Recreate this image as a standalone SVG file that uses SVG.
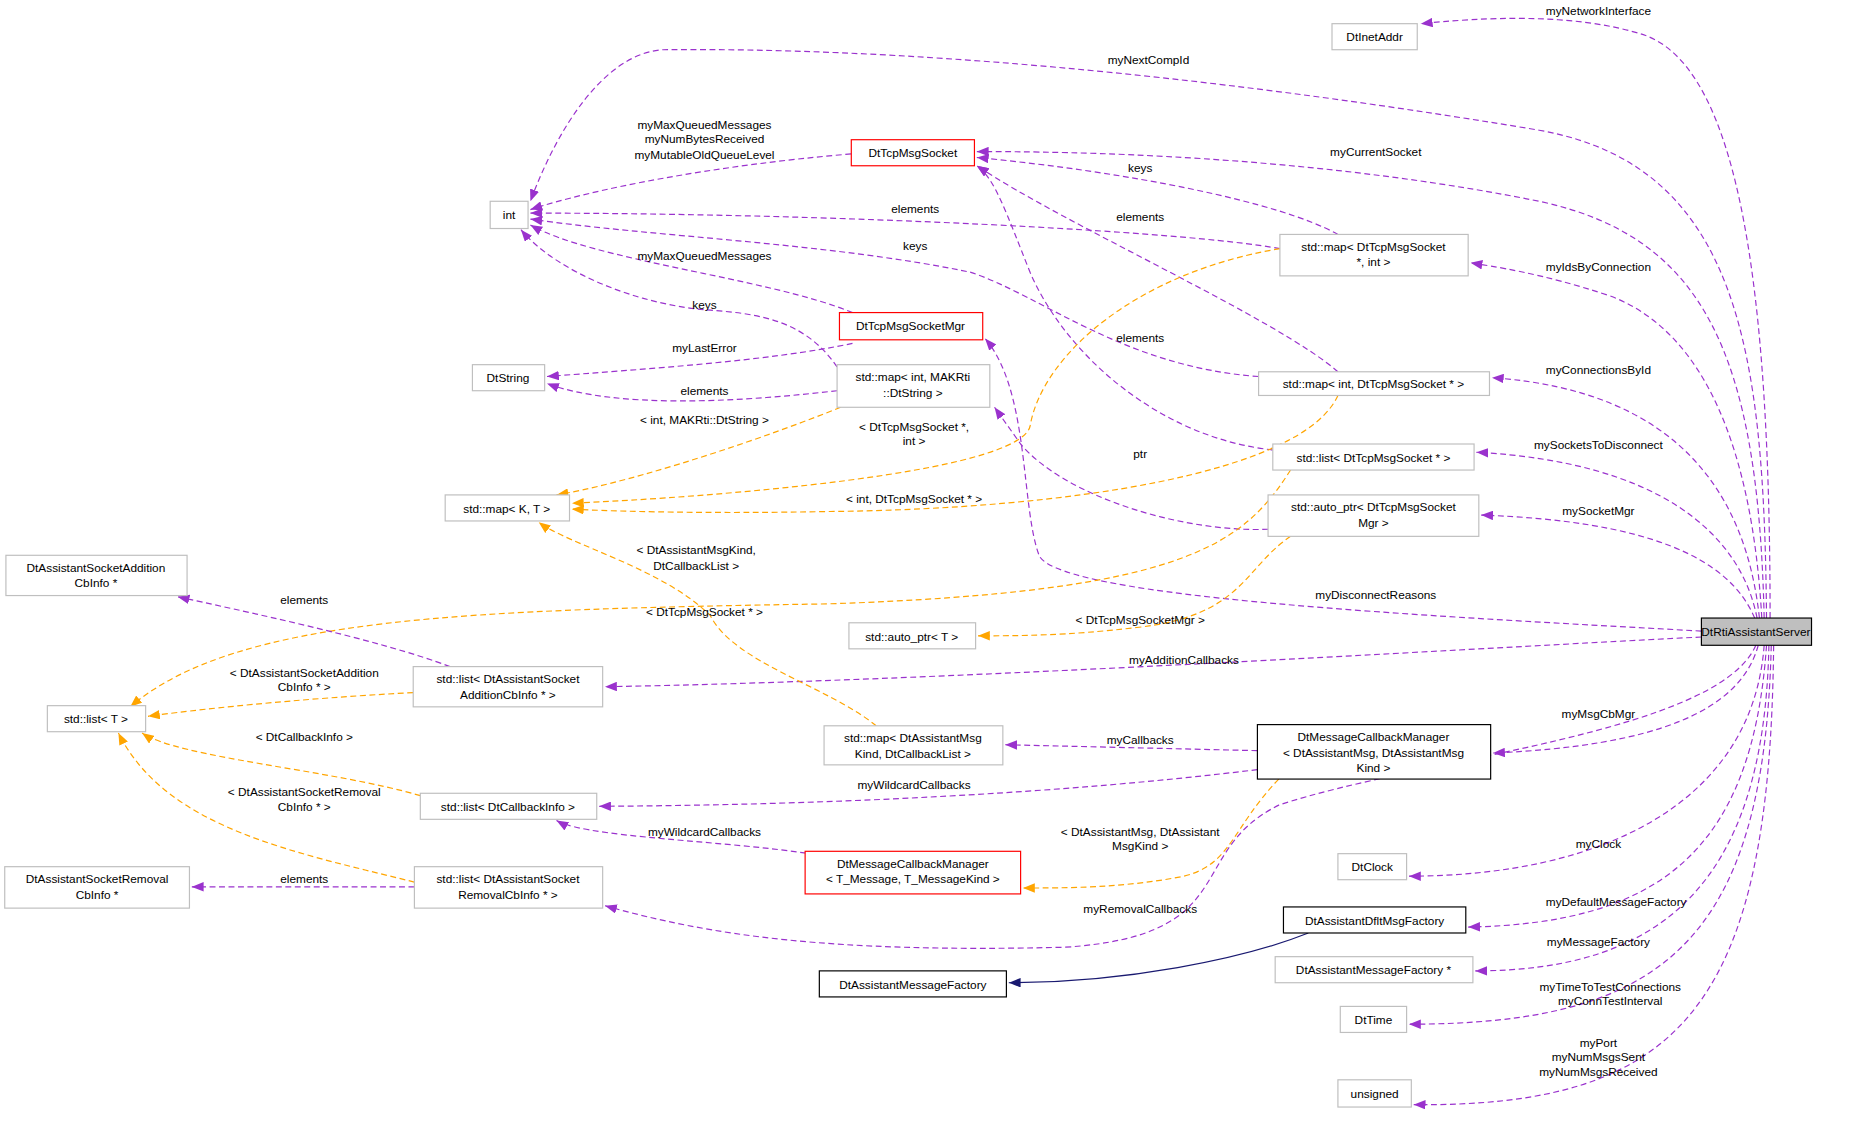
<svg xmlns="http://www.w3.org/2000/svg" width="1856" height="1129" viewBox="0 0 1856 1129">
<style>
text{font-family:"Liberation Sans",Arial,sans-serif;font-size:10px;fill:#000}
.n rect{fill:#fff;stroke:#bfbfbf;stroke-width:1}
.r rect{fill:#fff;stroke:#ff0000;stroke-width:1}
.b rect{fill:#fff;stroke:#000;stroke-width:1}
.s rect{fill:#bfbfbf;stroke:#000;stroke-width:1}
.c text{text-anchor:middle}
.p{fill:none;stroke:#9a32cd;stroke-dasharray:5,3;marker-end:url(#mp)}
.o{fill:none;stroke:#ffa500;stroke-dasharray:5,3;marker-end:url(#mo)}
.i{fill:none;stroke:#191970;marker-end:url(#mi)}
.lb{text-anchor:middle}
</style>
<defs>
<marker id="mp" viewBox="0 0 10 8" refX="10" refY="4" markerWidth="10" markerHeight="8" markerUnits="userSpaceOnUse" orient="auto"><path d="M0,0L10,4L0,8z" fill="#9a32cd"/></marker>
<marker id="mo" viewBox="0 0 10 8" refX="10" refY="4" markerWidth="10" markerHeight="8" markerUnits="userSpaceOnUse" orient="auto"><path d="M0,0L10,4L0,8z" fill="#ffa500"/></marker>
<marker id="mi" viewBox="0 0 10 8" refX="10" refY="4" markerWidth="10" markerHeight="8" markerUnits="userSpaceOnUse" orient="auto"><path d="M0,0L10,4L0,8z" fill="#191970"/></marker>
</defs>
<rect width="1856" height="1129" fill="#fff"/>
<g transform="scale(1.184)">
<g id="connectors">
<path class="p" d="M1495,522 C1495,250 1470,60 1390,30 C1330,10 1250,15 1200,20"/>
<path class="p" d="M1492,522 C1490,300 1470,140 1300,110 C1000,60 750,40 560,42 C510,45 470,110 448,170"/>
<path class="p" d="M1490,522 C1485,300 1440,200 1300,170 C1100,130 900,128 825,128"/>
<path class="p" d="M1488,522 C1480,380 1440,280 1360,250 C1300,230 1260,225 1242,222"/>
<path class="p" d="M1486,522 C1475,420 1420,330 1260,319"/>
<path class="p" d="M1484,522 C1470,450 1400,390 1247,382"/>
<path class="p" d="M1482,522 C1460,470 1390,440 1251,435"/>
<path class="p" d="M1437,533 C1200,520 900,505 878,470 C862,430 870,330 832,286"/>
<path class="p" d="M1071,447 C1000,450 900,420 862,375 L840,344"/>
<path class="p" d="M1437,538 C1200,550 800,575 511,580"/>
<path class="p" d="M1485,545 C1470,600 1400,630 1261,636"/>
<path class="p" d="M1483,545 C1450,620 1200,640 1080,680 C1000,720 1050,790 900,800 C700,805 600,790 511,765"/>
<path class="p" d="M1490,545 C1480,680 1350,740 1190,740"/>
<path class="p" d="M1492,545 C1480,720 1400,780 1240,783"/>
<path class="p" d="M1494,545 C1490,750 1400,820 1246,820"/>
<path class="p" d="M1496,545 C1490,800 1400,865 1190,865"/>
<path class="p" d="M1498,545 C1495,850 1420,935 1194,933"/>
<path class="p" d="M719,130 C600,140 500,160 448,177"/>
<path class="p" d="M1130,198 C1080,170 950,145 825,133"/>
<path class="p" d="M1130,314 C1080,270 900,190 825,140"/>
<path class="p" d="M1081,210 C1000,195 700,180 448,180"/>
<path class="p" d="M1063,318 C950,310 880,250 820,230 C700,205 550,200 448,185"/>
<path class="p" d="M1075,380 C980,370 900,300 870,230 C850,180 840,150 825,140"/>
<path class="p" d="M720,264 C650,235 500,220 448,190"/>
<path class="p" d="M707,310 C680,270 640,265 600,262 C540,258 470,230 440,194"/>
<path class="p" d="M720,290 C650,305 540,312 462,318"/>
<path class="p" d="M707,330 C620,340 520,345 462,324"/>
<path class="o" d="M710,344 C620,380 520,410 470,418"/>
<path class="o" d="M1081,210 C960,230 880,300 870,360 C860,400 600,420 483,425"/>
<path class="o" d="M1130,334 C1100,400 900,430 700,432 C600,434 520,432 483,430"/>
<path class="o" d="M740,613 C700,580 620,560 600,520 C560,480 480,460 455,441"/>
<path class="o" d="M1090,397 C1050,460 1000,500 700,510 C400,515 200,520 110,597"/>
<path class="o" d="M1090,453 C1050,480 1050,520 960,530 C900,537 860,537 826,537"/>
<path class="o" d="M349,585 C250,590 160,600 125,605"/>
<path class="p" d="M380,563 C320,540 200,515 150,504"/>
<path class="o" d="M355,672 C280,650 150,640 120,619"/>
<path class="o" d="M350,745 C250,720 140,700 100,619"/>
<path class="p" d="M350,749 L162,749"/>
<path class="p" d="M1062,634 L849,629"/>
<path class="p" d="M1062,650 C900,670 700,680 506,681"/>
<path class="p" d="M720,728 C650,710 500,710 470,693"/>
<path class="o" d="M1080,658 C1040,700 1040,730 1000,740 C950,750 900,750 864,750"/>
<path class="i" d="M1105,788 C1050,810 950,830 852,830"/>
<g class="lb">
<text x="1350" y="13">myNetworkInterface</text>
<text x="970" y="54">myNextCompId</text>
<text x="1162" y="132">myCurrentSocket</text>
<text x="1350" y="229">myIdsByConnection</text>
<text x="1350" y="316">myConnectionsById</text>
<text x="1350" y="379">mySocketsToDisconnect</text>
<text x="1350" y="435">mySocketMgr</text>
<text x="1162" y="506">myDisconnectReasons</text>
<text x="1000" y="561">myAdditionCallbacks</text>
<text x="1350" y="606">myMsgCbMgr</text>
<text x="963" y="771">myRemovalCallbacks</text>
<text x="1350" y="716">myClock</text>
<text x="1365" y="765">myDefaultMessageFactory</text>
<text x="1350" y="799">myMessageFactory</text>
<text x="1360" y="837">myTimeToTestConnections</text>
<text x="1360" y="849">myConnTestInterval</text>
<text x="1350" y="884">myPort</text>
<text x="1350" y="896">myNumMsgsSent</text>
<text x="1350" y="909">myNumMsgsReceived</text>
<text x="595" y="109">myMaxQueuedMessages</text>
<text x="595" y="121">myNumBytesReceived</text>
<text x="595" y="134">myMutableOldQueueLevel</text>
<text x="963" y="145">keys</text>
<text x="963" y="187">elements</text>
<text x="773" y="180">elements</text>
<text x="773" y="211">keys</text>
<text x="963" y="289">elements</text>
<text x="595" y="220">myMaxQueuedMessages</text>
<text x="595" y="261">keys</text>
<text x="595" y="297">myLastError</text>
<text x="595" y="334">elements</text>
<text x="595" y="358">&lt; int, MAKRti::DtString &gt;</text>
<text x="772" y="364">&lt; DtTcpMsgSocket *,</text>
<text x="772" y="376">int &gt;</text>
<text x="963" y="387">ptr</text>
<text x="772" y="425">&lt; int, DtTcpMsgSocket * &gt;</text>
<text x="588" y="468">&lt; DtAssistantMsgKind,</text>
<text x="588" y="481">DtCallbackList &gt;</text>
<text x="257" y="510">elements</text>
<text x="595" y="520">&lt; DtTcpMsgSocket * &gt;</text>
<text x="963" y="527">&lt; DtTcpMsgSocketMgr &gt;</text>
<text x="257" y="572">&lt; DtAssistantSocketAddition</text>
<text x="257" y="584">CbInfo * &gt;</text>
<text x="963" y="628">myCallbacks</text>
<text x="257" y="626">&lt; DtCallbackInfo &gt;</text>
<text x="772" y="666">myWildcardCallbacks</text>
<text x="257" y="672">&lt; DtAssistantSocketRemoval</text>
<text x="257" y="685">CbInfo * &gt;</text>
<text x="595" y="706">myWildcardCallbacks</text>
<text x="963" y="706">&lt; DtAssistantMsg, DtAssistant</text>
<text x="963" y="718">MsgKind &gt;</text>
<text x="257" y="746">elements</text>
</g>
</g>
<g class="c">
<g id="DtInetAddr" class="n"><rect x="1125" y="20" width="72" height="22"/><text x="1161" y="35">DtInetAddr</text></g>
<g id="int" class="n"><rect x="414" y="170" width="32" height="23"/><text x="430" y="185">int</text></g>
<g id="DtTcpMsgSocket" class="r"><rect x="719" y="118" width="104" height="22"/><text x="771" y="133">DtTcpMsgSocket</text></g>
<g id="DtString" class="n"><rect x="399" y="308" width="61" height="22"/><text x="429" y="323">DtString</text></g>
<g id="DtTcpMsgSocketMgr" class="r"><rect x="709" y="264" width="121" height="23"/><text x="769" y="279">DtTcpMsgSocketMgr</text></g>
<g id="mapIntDtString" class="n"><rect x="707" y="308" width="129" height="36"/><text x="771" y="322">std::map&lt; int, MAKRti</text><text x="771" y="335">::DtString &gt;</text></g>
<g id="mapSocketInt" class="n"><rect x="1081" y="198" width="159" height="35"/><text x="1160" y="212">std::map&lt; DtTcpMsgSocket</text><text x="1160" y="225">*, int &gt;</text></g>
<g id="mapIntSocket" class="n"><rect x="1063" y="314" width="195" height="20"/><text x="1160" y="328">std::map&lt; int, DtTcpMsgSocket * &gt;</text></g>
<g id="listSocket" class="n"><rect x="1075" y="375" width="170" height="22"/><text x="1160" y="390">std::list&lt; DtTcpMsgSocket * &gt;</text></g>
<g id="autoPtrMgr" class="n"><rect x="1071" y="418" width="178" height="35"/><text x="1160" y="432">std::auto_ptr&lt; DtTcpMsgSocket</text><text x="1160" y="445">Mgr &gt;</text></g>
<g id="mapKT" class="n"><rect x="376" y="418" width="105" height="22"/><text x="428" y="433">std::map&lt; K, T &gt;</text></g>
<g id="AdditionCbInfo" class="n"><rect x="5" y="469" width="153" height="34"/><text x="81" y="483">DtAssistantSocketAddition</text><text x="81" y="496">CbInfo *</text></g>
<g id="autoPtrT" class="n"><rect x="717" y="526" width="107" height="22"/><text x="770" y="541">std::auto_ptr&lt; T &gt;</text></g>
<g id="listT" class="n"><rect x="40" y="596" width="83" height="22"/><text x="81" y="611">std::list&lt; T &gt;</text></g>
<g id="listAddition" class="n"><rect x="349" y="563" width="160" height="34"/><text x="429" y="577">std::list&lt; DtAssistantSocket</text><text x="429" y="590">AdditionCbInfo * &gt;</text></g>
<g id="mapMsgKind" class="n"><rect x="696" y="613" width="151" height="33"/><text x="771" y="627">std::map&lt; DtAssistantMsg</text><text x="771" y="640">Kind, DtCallbackList &gt;</text></g>
<g id="MsgCbMgrAssistant" class="b"><rect x="1062" y="612" width="197" height="46"/><text x="1160" y="626">DtMessageCallbackManager</text><text x="1160" y="639">&lt; DtAssistantMsg, DtAssistantMsg</text><text x="1160" y="652">Kind &gt;</text></g>
<g id="listCallbackInfo" class="n"><rect x="355" y="670" width="149" height="22"/><text x="429" y="685">std::list&lt; DtCallbackInfo &gt;</text></g>
<g id="MsgCbMgrT" class="r"><rect x="680" y="719" width="182" height="36"/><text x="771" y="733">DtMessageCallbackManager</text><text x="771" y="746">&lt; T_Message, T_MessageKind &gt;</text></g>
<g id="RemovalCbInfo" class="n"><rect x="4" y="732" width="156" height="35"/><text x="82" y="746">DtAssistantSocketRemoval</text><text x="82" y="759">CbInfo *</text></g>
<g id="listRemoval" class="n"><rect x="350" y="732" width="159" height="35"/><text x="429" y="746">std::list&lt; DtAssistantSocket</text><text x="429" y="759">RemovalCbInfo * &gt;</text></g>
<g id="DtClock" class="n"><rect x="1130" y="721" width="58" height="22"/><text x="1159" y="736">DtClock</text></g>
<g id="DfltMsgFactory" class="b"><rect x="1084" y="766" width="154" height="22"/><text x="1161" y="781">DtAssistantDfltMsgFactory</text></g>
<g id="MessageFactory" class="b"><rect x="692" y="820" width="158" height="22"/><text x="771" y="835">DtAssistantMessageFactory</text></g>
<g id="MessageFactoryPtr" class="n"><rect x="1077" y="808" width="167" height="22"/><text x="1160" y="823">DtAssistantMessageFactory *</text></g>
<g id="DtTime" class="n"><rect x="1132" y="850" width="56" height="22"/><text x="1160" y="865">DtTime</text></g>
<g id="unsigned" class="n"><rect x="1130" y="912" width="62" height="23"/><text x="1161" y="927">unsigned</text></g>
<g id="DtRtiAssistantServer" class="s"><rect x="1437" y="522" width="93" height="23"/><text x="1483" y="537">DtRtiAssistantServer</text></g>
</g>
</g>
</svg>
